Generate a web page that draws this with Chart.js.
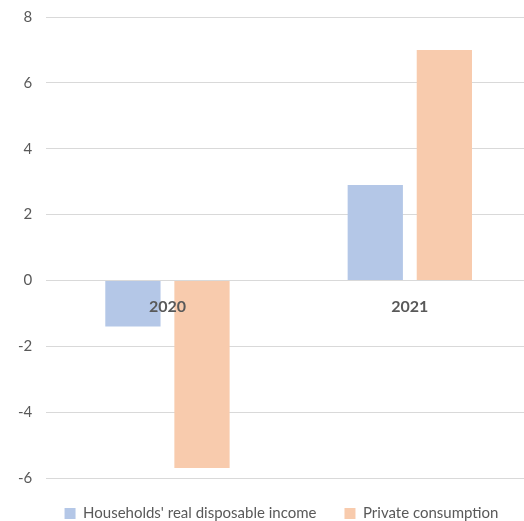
<!DOCTYPE html>
<html>
<head>
<meta charset="utf-8">
<script src="https://cdn.jsdelivr.net/npm/chart.js@4"></script>
<style>
    html, body { margin: 0; padding: 0; background: #fff; overflow: hidden; }
    #wrap { width: 531px; height: 527px; margin-top: -6px; }
</style>
</head>
<body>
<div id="wrap"><canvas id="chart"></canvas></div>
<script>
var years = ['2020', '2021'];
var incomeValues = [-1.4, 2.9];
var consumptionValues = [-5.7, 7.0];
var yTicks = [-6, -4, -2, 0, 2, 4, 6, 8];

var textColor = '#595959';
var fontFamily = 'Lato, "Open Sans", sans-serif';

// year labels sit just under the zero line, on top of the bars
var yearLabels = {
    id: 'yearLabels',
    afterDatasetsDraw: function(chart) {
        var ctx = chart.ctx;
        var x = chart.scales.x;
        var y0 = chart.scales.y.getPixelForValue(0);
        ctx.save();
        ctx.fillStyle = textColor;
        ctx.font = 'bold 16px ' + fontFamily;
        ctx.textAlign = 'center';
        ctx.textBaseline = 'middle';
        years.forEach(function(label, i) {
            ctx.fillText(label, x.getPixelForValue(i), y0 + 26);
        });
        ctx.restore();
    }
};

// legend in the original is a bit right of centre
var shiftLegend = {
    id: 'shiftLegend',
    afterLayout: function(chart) {
        chart.legend.left += 14;
        chart.legend.right += 14;
    }
};

new Chart(document.getElementById('chart'), {
    type: 'bar',
    data: {
        labels: years,
        datasets: [
            {
                label: "Households' real disposable income",
                data: incomeValues,
                backgroundColor: '#B4C7E7',
                categoryPercentage: 0.57,
                barPercentage: 0.8
            },
            {
                label: 'Private consumption',
                data: consumptionValues,
                backgroundColor: '#F8CBAD',
                categoryPercentage: 0.57,
                barPercentage: 0.8
            }
        ]
    },
    plugins: [yearLabels, shiftLegend],
    options: {
        responsive: true,
        maintainAspectRatio: false,
        animation: false,
        layout: { padding: { top: 0, right: 0, bottom: -10, left: 4 } },
        plugins: {
            legend: {
                position: 'bottom',
                labels: {
                    boxWidth: 11,
                    boxHeight: 11,
                    padding: 28,
                    color: textColor,
                    font: { family: fontFamily, size: 15 }
                }
            },
            tooltip: { enabled: false }
        },
        scales: {
            x: {
                type: 'category',
                display: false
            },
            y: {
                min: yTicks[0],
                max: yTicks[yTicks.length - 1],
                afterBuildTicks: function(axis) {
                    axis.ticks = yTicks.map(function(v) { return { value: v }; });
                },
                grid: { color: '#d9d9d9', lineWidth: 1, drawTicks: false },
                border: { display: false },
                ticks: {
                    padding: 14,
                    color: textColor,
                    font: { family: fontFamily, size: 15 }
                }
            }
        }
    }
});
</script>
</body>
</html>
